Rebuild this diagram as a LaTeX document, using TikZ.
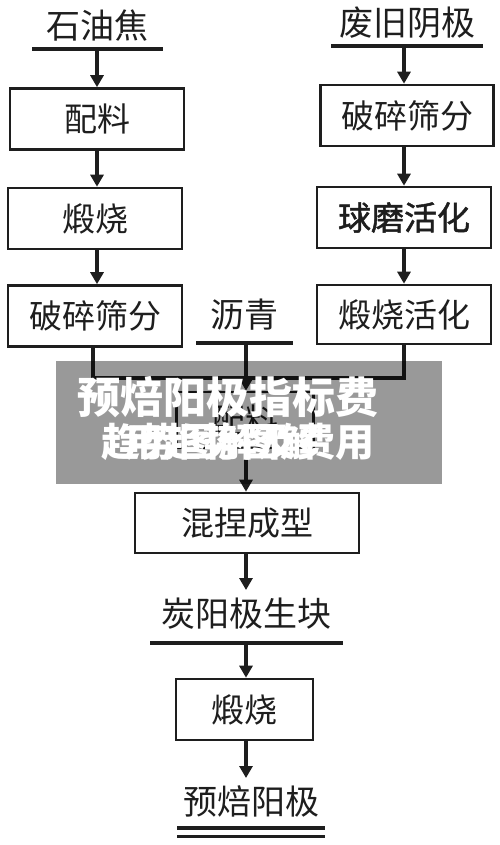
\documentclass[tikz,border=0pt]{standalone}
\usepackage{fontspec}
\setmainfont{Noto Sans CJK SC}
\newfontfamily\cjkmed[FakeBold=1.5]{Noto Sans CJK SC}
\usetikzlibrary{arrows.meta}
\definecolor{ink}{HTML}{1E1E1E}
\tikzset{
  proc/.style={draw=ink, line width=2.6pt, minimum height=61pt, inner sep=0pt,
    font=\fontsize{33}{33}\selectfont, text=ink},
  lbl/.style={inner sep=0pt, font=\fontsize{34}{34}\selectfont, text=ink},
  flow/.style={draw=ink, line width=3.5pt, -{Triangle[width=13pt,length=12pt]}},
  wire/.style={draw=ink, line width=3.5pt, line join=miter},
  bar/.style={draw=ink, line width=4.5pt},
  ovl/.style={inner sep=0pt, text=white, font=\fontsize{43}{43}\selectfont\bfseries},
}
\begin{document}
\begin{tikzpicture}[x=1pt,y=-1pt]
\useasboundingbox[fill=white] (0,0) rectangle (500,845);

% left column
\node[lbl] (coke) at (97,26) {石油焦};
\coordinate (cokeL) at (32,49); \coordinate (cokeR) at (163,49);
\coordinate (cokeU) at (97,49);
\draw[bar] (cokeL) -- (cokeR);
\node[proc, minimum width=174pt] (mixA) at (97,119) {配料};
\node[proc, minimum width=174pt] (calA) at (95,218.5) {煅烧};
\node[proc, minimum width=174pt] (crushA) at (95,316) {破碎筛分};
\draw[flow] (cokeU) -- (cokeU |- mixA.north);
\draw[flow] (cokeU |- mixA.south) -- (cokeU |- calA.north);
\draw[flow] (cokeU |- calA.south) -- (cokeU |- crushA.north);

% right column
\node[lbl] (cath) at (407,23) {废旧阴极};
\coordinate (cathL) at (331,46); \coordinate (cathR) at (483,46);
\coordinate (cathU) at (404,46);
\draw[bar] (cathL) -- (cathR);
\node[proc, minimum width=173pt] (crushB) at (407,115.5) {破碎筛分};
\node[proc, minimum width=174pt] (ball) at (404,217.5) {\cjkmed 球磨活化};
\node[proc, minimum width=174pt, minimum height=59pt] (calact) at (404,314.5) {煅烧活化};
\draw[flow] (cathU) -- (cathU |- crushB.north);
\draw[flow] (cathU |- crushB.south) -- (cathU |- ball.north);
\draw[flow] (cathU |- ball.south) -- (cathU |- calact.north);

% pitch
\node[lbl] (pitch) at (244,315) {沥青};
\coordinate (pitchL) at (196,343); \coordinate (pitchR) at (293,343);
\coordinate (pitchU) at (246,343);
\draw[bar] (pitchL) -- (pitchR);

% junction
\coordinate (jL) at (93,378); \coordinate (jR) at (404,378);
\node[proc, minimum width=137pt, minimum height=56pt] (mixB) at (245,420) {配料};
\draw[wire] (crushA.south -| jL) -- (jL) -- (jR) -- (calact.south -| jR);
\draw[flow] (pitchU) -- (pitchU |- mixB.north);

% lower chain
\node[proc, minimum width=224pt, minimum height=60pt] (knead) at (247,523) {混捏成型};
\coordinate (cU) at (246,0);
\draw[flow] (cU |- mixB.south) -- (cU |- knead.north);
\node[lbl] (green) at (246,614) {炭阳极生块};
\coordinate (greenL) at (150,643); \coordinate (greenR) at (343,643);
\coordinate (greenU) at (246,643);
\draw[bar] (greenL) -- (greenR);
\draw[flow] (cU |- knead.south) -- (246,590);
\node[proc, minimum width=137pt, minimum height=61pt] (calB) at (244.5,709.5) {煅烧};
\draw[flow] (greenU) -- (greenU |- calB.north);
\node[lbl] (anode) at (251,801) {预焙阳极};
\draw[flow] (greenU |- calB.south) -- (246,778);
\coordinate (aL1) at (177,828); \coordinate (aR1) at (325,828);
\coordinate (aL2) at (177,836.5); \coordinate (aR2) at (325,836.5);
\draw[draw=ink, line width=3.5pt] (aL1) -- (aR1);
\draw[draw=ink, line width=3.5pt] (aL2) -- (aR2);

% overlay banner
\fill[black, opacity=0.4] (56,361) rectangle (442,484);
\node[ovl] (t1) at (228,397) {预焙阳极指标费};
\node[ovl, font=\fontsize{39}{39}\selectfont\bfseries] (t2a) at (238,442) {趋势图解及费用};
\node[ovl, font=\fontsize{39}{39}\selectfont\bfseries] (t2b) at (222,442) {用趋势图解};
\end{tikzpicture}
\end{document}
